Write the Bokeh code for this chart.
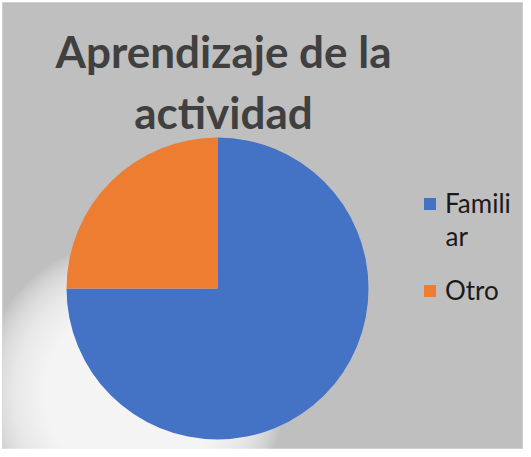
import numpy as np
from bokeh.plotting import figure
from bokeh.models import ColumnDataSource, Range1d, Label, Legend, LegendItem
from bokeh.embed import file_html
from bokeh.resources import INLINE

# ---- data ----
categories = ["Familiar", "Otro"]
legend_first = ["Famili", "Otro"]   # legend text (first line)
legend_wrap = "ar"                   # wrapped remainder of "Familiar"
values = [75, 25]
colors = ["#4472C4", "#ED7D31"]
title_lines = ["Aprendizaje de la", "actividad"]

# ---- layout ----
W, H = 523, 449
FW, FH = 521, 447          # frame size (data units == pixels)
CX, CY, R = 215, 161, 151  # pie centre / radius
BG = "#bfbfbf"

p = figure(width=W, height=H, output_backend="svg", toolbar_location=None,
           x_range=Range1d(0, FW), y_range=Range1d(0, FH),
           x_axis_type=None, y_axis_type=None, title=None,
           min_border_left=2, min_border_top=2, min_border_right=0, min_border_bottom=0)
p.grid.visible = False
p.background_fill_color = BG
p.border_fill_color = "white"
p.outline_line_color = "#d0d0d0"
p.outline_line_width = 1

# soft white glow at lower left of the pie
GX, GY = CX - 85, CY - 104
for r in np.arange(152, 70, -2.5):
    p.circle(x=GX, y=GY, radius=float(r), radius_units="screen",
             fill_color="white", fill_alpha=0.08, line_color=None)

total = float(sum(values))
cum = np.concatenate([[0.0], np.cumsum(values)]) / total
start = np.pi / 2 - cum[:-1] * 2 * np.pi
end = np.pi / 2 - cum[1:] * 2 * np.pi

src = ColumnDataSource(dict(cat=categories, val=values, color=colors,
                            start=start, end=end,
                            x=[CX] * len(values), y=[CY] * len(values)))
wedges = p.wedge(x="x", y="y", radius=R, radius_units="screen",
                 start_angle="start", end_angle="end", direction="clock",
                 fill_color="color", line_color=None, source=src)

items = [LegendItem(label=legend_first[i], renderers=[wedges], index=i)
         for i in range(len(values))]
legend = Legend(items=items, location=(420, 143), padding=0, margin=0,
                spacing=55, border_line_color=None, background_fill_alpha=0,
                glyph_width=15, glyph_height=15, label_standoff=8,
                label_text_font="Lato", label_text_font_size="26px",
                label_text_color="#1a1a1a")
p.add_layout(legend, "center")

p.add_layout(Label(x=443, y=214, x_units="screen", y_units="screen",
                   text=legend_wrap, text_align="left", text_baseline="alphabetic",
                   text_font="Lato", text_font_size="26px", text_color="#1a1a1a"))

for txt, yy in zip(title_lines, [399, 338]):
    p.add_layout(Label(x=221, y=yy, x_units="screen", y_units="screen",
                       text=txt, text_align="center", text_baseline="alphabetic",
                       text_font="Lato", text_font_style="bold",
                       text_font_size="44px", text_color="#404040"))

open("out.html", "w").write(file_html(p, INLINE))
